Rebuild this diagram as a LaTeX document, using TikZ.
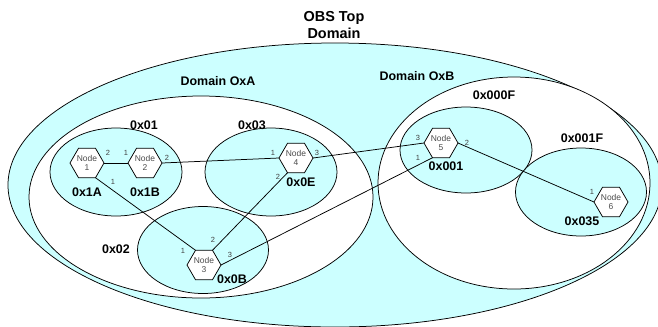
\documentclass[tikz,border=0pt]{standalone}
\usepackage{fontspec}
\setmainfont{Liberation Sans}
\usepackage{tikz}
\usetikzlibrary{shapes}
\usetikzlibrary{positioning}
\definecolor{areacyan}{RGB}{204,255,255}
\tikzset{area node/.style={ellipse, draw=black, line width=0.75bp, inner sep=0pt, outer sep=0pt}}
\tikzset{cyan area/.style={area node, fill=areacyan}}
\tikzset{white area/.style={area node, fill=white}}
\tikzset{switch node/.style={regular polygon, regular polygon sides=6, draw=black, line width=0.75bp,
    fill=white, minimum size=34bp, inner sep=0pt, outer sep=0pt, align=center,
    text=black!70, font=\fontsize{8.5}{9.5}\selectfont}}
\tikzset{link edge/.style={draw=black, line width=0.75bp}}
\tikzset{port label/.style={inner sep=0pt, text=black!75, font=\fontsize{7.5}{8}\selectfont}}
\tikzset{area label/.style={inner sep=0pt, font=\fontsize{12.5}{14}\selectfont\bfseries}}
\tikzset{top label/.style={inner sep=0pt, align=center, font=\fontsize{14.5}{17}\selectfont\bfseries}}

\begin{document}
\begin{tikzpicture}
      [x=1bp, y=-1bp]
      \useasboundingbox (0,0) rectangle (658,326);
      \node [cyan area, minimum width=654bp, minimum height=284bp]  (obs)  at (335,185) {};
      \node [white area, minimum width=344bp, minimum height=202bp] (doma) at (201,197) {};
      \node [white area, minimum width=272bp, minimum height=212bp] (domb) at (514,183) {};
      \node [cyan area, minimum width=132bp, minimum height=88bp]   (a01)  at (116,172) {};
      \node [cyan area, minimum width=132bp, minimum height=88bp]   (a03)  at (271,172) {};
      \node [cyan area, minimum width=131bp, minimum height=87bp]   (a02)  at (203,250) {};
      \node [cyan area, minimum width=132bp, minimum height=86bp]   (b0f)  at (466,150) {};
      \node [cyan area, minimum width=131bp, minimum height=88bp]   (b1f)  at (581,192) {};

      \node [top label]  (ttop) at (334,25)  {OBS Top\\Domain};
      \node [area label] (tdoa) at (218,81)  {Domain OxA};
      \node [area label] (tdob) at (417,76)  {Domain OxB};
      \node [area label] (t01)  at (144,125) {0x01};
      \node [area label] (t03)  at (252,125) {0x03};
      \node [area label] (t02)  at (116,249) {0x02};
      \node [area label] (t0f)  at (494,95)  {0x000F};
      \node [area label] (t1f)  at (582,138) {0x001F};
      \node [area label] (t1a)  at (87,192)  {0x1A};
      \node [area label] (t1b)  at (145,192) {0x1B};
      \node [area label] (t0e)  at (301,182) {0x0E};
      \node [area label] (t0b)  at (232,279) {0x0B};
      \node [area label] (t001) at (446,166) {0x001};
      \node [area label] (t035) at (582,221) {0x035};

      \node [switch node] (sw1) at (87,163)  {Node\\1};
      \node [switch node] (sw2) at (145,163) {Node\\2};
      \node [switch node] (sw3) at (204,265) {Node\\3};
      \node [switch node] (sw4) at (296,158) {Node\\4};
      \node [switch node] (sw5) at (441,143) {Node\\5};
      \node [switch node] (sw6) at (611,202) {Node\\6};

      \draw [link edge] (sw1.east) to (sw2.west);
      \draw [link edge] (sw2.east) to (sw4.west);
      \draw [link edge] (sw4.east) to (sw5.west);
      \draw [link edge] (sw1.300)  to (sw3.120);
      \draw [link edge] (sw4.240)  to (sw3.60);
      \draw [link edge] (sw3.east) to (sw5.240);
      \draw [link edge] (sw5.east) to (sw6.west);

      \node [port label] (p1b) at (108,153) {2};
      \node [port label] (p2a) at (126,153) {1};
      \node [port label] (p2b) at (167,158) {2};
      \node [port label] (p4a) at (273,153) {1};
      \node [port label] (p4c) at (317,153) {3};
      \node [port label] (p5c) at (418,138) {3};
      \node [port label] (p1a) at (113,182) {1};
      \node [port label] (p3a) at (183,251) {1};
      \node [port label] (p4b) at (278,177) {2};
      \node [port label] (p3b) at (213,240) {2};
      \node [port label] (p3c) at (230,255) {3};
      \node [port label] (p5a) at (418,158) {1};
      \node [port label] (p5b) at (467,143) {2};
      \node [port label] (p6a) at (592,192) {1};
    \end{tikzpicture}
\end{document}
